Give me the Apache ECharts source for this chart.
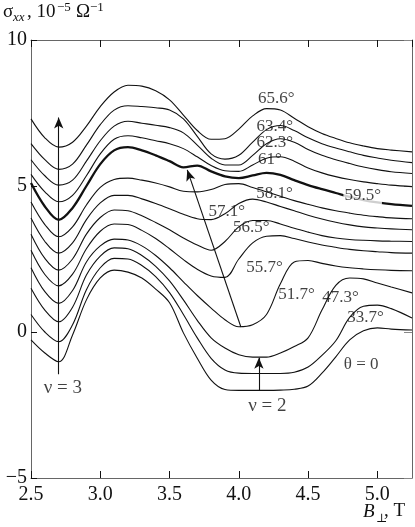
<!DOCTYPE html>
<html>
<head>
<meta charset="utf-8">
<script src="https://cdn.jsdelivr.net/npm/echarts@6/dist/echarts.min.js"></script>
<style>
  html, body { margin: 0; padding: 0; background: #fff; }
  #chart { width: 415px; height: 527px; }
</style>
</head>
<body>
<div id="chart"></div>
<script>
// B (T), shared by all curves
var xs = [2.5, 2.6, 2.7, 2.8, 2.9, 3.0, 3.1, 3.2, 3.3, 3.4, 3.5, 3.6, 3.7, 3.8, 3.9, 4.0,
          4.1, 4.2, 4.3, 4.4, 4.5, 4.6, 4.7, 4.8, 4.9, 5.0, 5.1, 5.25];

// sigma_xx, 10^-5 Ohm^-1, one array per tilt angle (curves are shifted in the original)
var t656 = [7.3, 6.65, 6.33, 6.5, 7.05, 7.72, 8.22, 8.45, 8.42, 8.26, 7.95, 7.43, 6.9, 6.6, 6.62, 6.95, 7.4, 7.65, 7.6, 7.32, 7.03, 6.8, 6.63, 6.48, 6.37, 6.28, 6.23, 6.17];
var t634 = [6.45, 5.9, 5.57, 5.75, 6.4, 7.1, 7.6, 7.75, 7.72, 7.68, 7.6, 7.3, 6.7, 6.1, 5.92, 6.05, 6.5, 6.93, 7.07, 6.9, 6.65, 6.45, 6.3, 6.17, 6.05, 5.96, 5.88, 5.8];
var t623 = [5.9, 5.35, 5.03, 5.2, 5.85, 6.55, 7.05, 7.22, 7.15, 7.08, 7.0, 6.82, 6.4, 5.95, 5.72, 5.72, 6.05, 6.45, 6.62, 6.5, 6.25, 6.05, 5.9, 5.77, 5.65, 5.56, 5.49, 5.43];
var t61 = [5.4, 4.8, 4.46, 4.68, 5.35, 6.1, 6.6, 6.72, 6.65, 6.55, 6.45, 6.28, 6.0, 5.7, 5.52, 5.5, 5.72, 5.95, 6.0, 5.85, 5.62, 5.45, 5.32, 5.22, 5.14, 5.08, 5.03, 4.98];
var t595 = [5.1, 4.3, 3.84, 4.25, 5.0, 5.75, 6.22, 6.33, 6.22, 6.05, 5.85, 5.64, 5.7, 5.5, 5.33, 5.27, 5.36, 5.45, 5.38, 5.2, 5.03, 4.89, 4.76, 4.63, 4.52, 4.44, 4.38, 4.32];
var t581 = [4.45, 3.68, 3.26, 3.6, 4.35, 4.95, 5.22, 5.27, 5.2, 5.1, 4.97, 4.82, 4.8, 4.88, 5.05, 5.08, 4.95, 4.8, 4.65, 4.5, 4.37, 4.25, 4.15, 4.07, 4.0, 3.95, 3.91, 3.88];
var t571 = [3.9, 3.1, 2.7, 3.05, 3.85, 4.42, 4.68, 4.68, 4.56, 4.4, 4.22, 4.03, 3.88, 3.85, 4.05, 4.4, 4.55, 4.45, 4.3, 4.15, 4.0, 3.87, 3.76, 3.67, 3.6, 3.56, 3.53, 3.5];
var t565 = [3.35, 2.52, 2.12, 2.5, 3.35, 3.92, 4.18, 4.15, 3.98, 3.75, 3.5, 3.22, 2.98, 2.8, 3.1, 3.6, 3.82, 3.82, 3.7, 3.55, 3.42, 3.3, 3.22, 3.17, 3.14, 3.12, 3.11, 3.1];
var t557 = [2.8, 1.97, 1.58, 1.98, 2.85, 3.45, 3.7, 3.68, 3.48, 3.2, 2.85, 2.48, 2.15, 1.92, 1.87, 2.5, 3.05, 3.28, 3.3, 3.2, 3.08, 2.98, 2.9, 2.83, 2.78, 2.75, 2.72, 2.7];
var t517 = [2.2, 1.38, 0.98, 1.42, 2.4, 2.95, 3.18, 3.15, 2.95, 2.62, 2.2, 1.72, 1.25, 0.82, 0.42, 0.18, 0.25, 0.6, 1.65, 2.4, 2.45, 2.35, 2.26, 2.2, 2.16, 2.13, 2.11, 2.1];
var t473 = [1.5, 0.75, 0.35, 0.85, 1.95, 2.6, 2.88, 2.85, 2.62, 2.25, 1.75, 1.1, 0.4, -0.2, -0.55, -0.78, -0.86, -0.86, -0.72, -0.5, -0.2, 0.75, 1.6, 1.85, 1.82, 1.68, 1.54, 1.34];
var t337 = [0.6, 0.0, -0.33, 0.25, 1.45, 2.2, 2.52, 2.5, 2.28, 1.9, 1.35, 0.6, -0.2, -0.9, -1.3, -1.41, -1.42, -1.42, -1.42, -1.38, -1.2, -0.8, -0.3, 0.5, 0.88, 0.92, 0.8, 0.48];
var t0 = [-0.27, -0.72, -1.02, -0.1, 1.1, 1.85, 2.12, 2.05, 1.85, 1.47, 1.0, -0.03, -0.9, -1.65, -1.97, -2.0, -2.0, -2.0, -1.99, -1.96, -1.85, -1.41, -0.85, -0.27, 0.04, 0.14, 0.1, 0.07];

var curves = [t656, t634, t623, t61, t595, t581, t571, t565, t557, t517, t473, t337, t0];
var boldCurve = 4; // 59.5 deg

// curve labels, anchored in data coordinates
var labelText = ['65.6°', '63.4°', '62.3°', '61°', '59.5°', '58.1°', '57.1°', '56.5°', '55.7°', '51.7°', '47.3°', '33.7°', 'θ = 0'];
var labelB = [4.27, 4.26, 4.26, 4.225, 4.894, 4.257, 3.913, 4.09, 4.185, 4.416, 4.734, 4.915, 4.883];
var labelS = [8.0, 7.02, 6.49, 5.91, 4.66, 4.73, 4.14, 3.58, 2.21, 1.30, 1.18, 0.50, -1.13];

// filling factor marks: text and arrows
var nuText = ['ν = 3', 'ν = 2'];
var nuB = [2.73, 4.206];
var nuS = [-1.92, -2.53];
var arrows = [
  [[2.7, -1.45], [2.7, 7.35]],
  [[4.145, -1.99], [4.145, -0.88]],
  [[4.015, 0.17], [3.628, 5.55]]
];

var serif = '"Liberation Serif", "DejaVu Serif", serif';

var chart = echarts.init(document.getElementById('chart'));

var series = [];
curves.forEach(function (ys, i) {
  series.push({
    type: 'line',
    data: xs.map(function (x, j) { return [x, ys[j]]; }),
    smooth: 0.35,
    showSymbol: false,
    silent: true,
    lineStyle: { color: '#111', width: i === boldCurve ? 2.3 : 1.1 },
    z: 2
  });
});

var labelData = labelText.map(function (t, i) { return [labelB[i], labelS[i], t]; });
// white box only where the bold line is cut by its label
labelData[boldCurve] = {
  value: labelData[boldCurve],
  label: { backgroundColor: '#fff', padding: [0, 1] }
};

series.push({
  type: 'scatter',
  symbolSize: 0,
  silent: true,
  z: 5,
  data: labelData,
  label: {
    show: true,
    position: 'inside',
    formatter: function (p) { return p.value[2]; },
    fontFamily: serif,
    fontSize: 17,
    color: '#111'
  },
  labelLayout: { hideOverlap: false }
});

series.push({
  type: 'scatter',
  symbolSize: 0,
  silent: true,
  z: 5,
  data: nuText.map(function (t, i) { return [nuB[i], nuS[i], t]; }),
  label: {
    show: true,
    position: 'inside',
    formatter: function (p) { return p.value[2]; },
    fontFamily: serif,
    fontSize: 19,
    color: '#111'
  }
});

series.push({
  type: 'line',
  data: [],
  markLine: {
    silent: true,
    symbol: ['none', 'arrow'],
    symbolSize: [7, 11],
    label: { show: false },
    lineStyle: { color: '#111', width: 1.1, type: 'solid' },
    data: arrows.map(function (a) {
      return [{ coord: a[0] }, { coord: a[1] }];
    })
  }
});

var tickStyle = { show: true, inside: true, length: 7, lineStyle: { color: '#111', width: 1 } };
var lineStyle = { show: true, onZero: false, lineStyle: { color: '#666', width: 1 } };

option = {
  animation: false,
  grid: { left: 31, right: 3, top: 40, bottom: 49 },
  xAxis: [
    {
      type: 'value', position: 'bottom', min: 2.5, max: 5.25, interval: 0.5,
      axisLine: lineStyle, axisTick: tickStyle, splitLine: { show: false },
      axisLabel: {
        margin: 7, fontFamily: serif, fontSize: 20, color: '#111', showMaxLabel: false,
        formatter: function (v) { return v.toFixed(1); }
      }
    },
    {
      type: 'value', position: 'top', min: 2.5, max: 5.25, interval: 0.5,
      axisLine: lineStyle, axisTick: tickStyle, splitLine: { show: false },
      axisLabel: { show: false }
    }
  ],
  yAxis: [
    {
      type: 'value', position: 'left', min: -5, max: 10, interval: 5,
      axisLine: lineStyle, axisTick: { show: true, inside: true, length: 6, lineStyle: { color: '#111' } },
      splitLine: { show: false },
      axisLabel: {
        margin: 4, fontFamily: serif, fontSize: 20, color: '#111',
        formatter: function (v) { return v < 0 ? '\u2212' + Math.abs(v) : String(v); }
      }
    },
    {
      type: 'value', position: 'right', min: -5, max: 10, interval: 5,
      axisLine: lineStyle, axisTick: { show: true, inside: true, length: 8, lineStyle: { color: '#888' } },
      splitLine: { show: false },
      axisLabel: { show: false }
    }
  ],
  graphic: [
    // y axis title: sigma_xx, 10^-5 Ohm^-1
    { type: 'text', style: { text: 'σ', x: 3, y: 22, font: '19px ' + serif, fill: '#111', verticalAlign: 'bottom' } },
    { type: 'text', style: { text: 'xx', x: 13, y: 24, font: 'italic 13px ' + serif, fill: '#111', verticalAlign: 'bottom' } },
    { type: 'text', style: { text: ', 10', x: 27, y: 22, font: '19px ' + serif, fill: '#111', verticalAlign: 'bottom' } },
    { type: 'text', style: { text: '\u22125', x: 57, y: 14, font: '13px ' + serif, fill: '#111', verticalAlign: 'bottom' } },
    { type: 'text', style: { text: 'Ω', x: 76, y: 22, font: '19px ' + serif, fill: '#111', verticalAlign: 'bottom' } },
    { type: 'text', style: { text: '\u22121', x: 90, y: 14, font: '13px ' + serif, fill: '#111', verticalAlign: 'bottom' } },
    // x axis title: B_perp, T
    { type: 'text', style: { text: 'B', x: 363, y: 521, font: 'italic 19px ' + serif, fill: '#111', verticalAlign: 'bottom' } },
    { type: 'text', style: { text: '⊥', x: 376, y: 525, font: '12px ' + serif, fill: '#111', verticalAlign: 'bottom' } },
    { type: 'text', style: { text: ', T', x: 384, y: 521, font: '19px ' + serif, fill: '#111', verticalAlign: 'bottom' } }
  ],
  series: series
};

chart.setOption(option);
</script>
</body>
</html>
